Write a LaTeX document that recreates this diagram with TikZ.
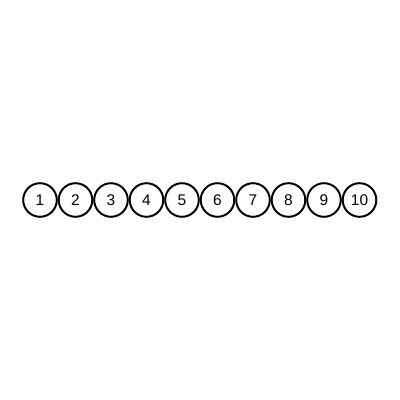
\documentclass[tikz,border=0pt]{standalone}
\usepackage{fontspec}
\setmainfont{Liberation Sans}
\begin{document}
\begin{tikzpicture}[ball/.style={draw,line width=1.4pt,circle,minimum size=0.84cm,inner sep=0pt,font=\fontsize{11}{13}\selectfont}]
            \useasboundingbox (0,0) rectangle (10,10);
            \foreach \i in {1,...,10}
                \node[ball] (n\i) at ({1+0.8875*(\i-1)},5) {\i};
        \end{tikzpicture}
\end{document}
